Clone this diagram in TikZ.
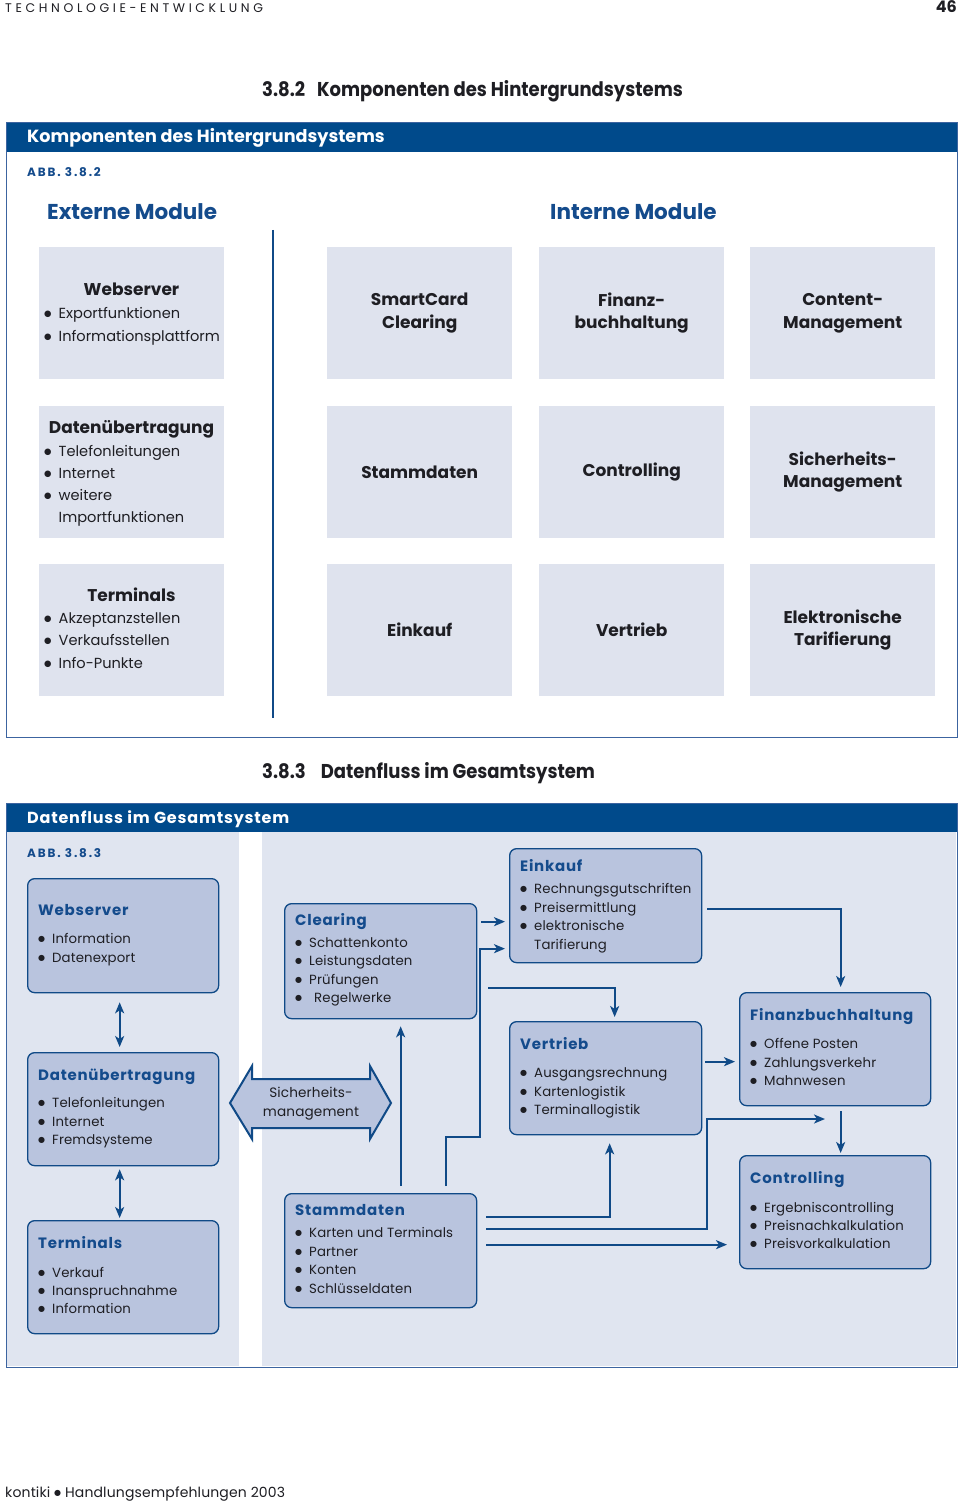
\documentclass[tikz,border=0pt]{standalone}
\usepackage{fontspec}
\setmainfont{Poppins}
\newfontfamily\fcondensed{Poppins}[FakeStretch=0.9]
\newfontfamily\fwide{Poppins}[LetterSpace=1]
\newfontfamily\fwidetitle{Poppins}[LetterSpace=5]
\newfontfamily\fbarwide{Poppins}[LetterSpace=5]
\newfontfamily\fabb{Poppins}[LetterSpace=15]
\newfontfamily\fhdr{Poppins}[LetterSpace=29]
\newfontfamily\fsym{DejaVu Sans}
\usetikzlibrary{arrows.meta}
\definecolor{barblue}{RGB}{0,74,139}
\definecolor{lineblue}{RGB}{16,74,135}
\definecolor{titleblue}{RGB}{20,75,140}
\definecolor{boxfill}{RGB}{185,196,222}
\definecolor{panelfill}{RGB}{224,229,240}
\definecolor{modfill}{RGB}{223,227,238}
\definecolor{framecol}{RGB}{60,100,160}
\definecolor{txt}{RGB}{30,30,35}
\newcommand\bul{\makebox[14pt][l]{\raisebox{1.1pt}{\fsym\fontsize{8}{8}\selectfont ●}}}
\newcommand\bulA{\makebox[14.5pt][l]{\raisebox{1.3pt}{\fsym\fontsize{8.5}{8.5}\selectfont ●}}}
\tikzset{
  modbox/.style={fill=modfill, minimum width=185pt, minimum height=132pt, anchor=north west, inner sep=0pt, align=center, text=txt, font=\bfseries\fontsize{17}{22.5}\selectfont},
  mtitle/.style={anchor=base, inner sep=0pt, text=txt, font=\bfseries\fontsize{17}{20}\selectfont},
  mitem/.style={anchor=base west, inner sep=0pt, text=txt, font=\fontsize{14.6}{20}\selectfont},
  flowbox/.style={draw=lineblue, line width=1.3pt, fill=boxfill, rounded corners=7pt, anchor=north west, inner sep=0pt},
  ftitle/.style={anchor=base west, inner sep=0pt, text=titleblue, font=\fwidetitle\bfseries\fontsize{15}{18}\selectfont},
  fitem/.style={anchor=base west, inner sep=0pt, text=txt, font=\fwide\fontsize{13.3}{18}\selectfont},
  arr/.style={draw=lineblue, line width=2pt, -{Stealth[length=11pt,width=9pt,inset=3pt]}},
  arrboth/.style={draw=lineblue, line width=2pt, {Stealth[length=11pt,width=9pt,inset=3pt]}-{Stealth[length=11pt,width=9pt,inset=3pt]}},
  frameline/.style={draw=framecol, line width=1pt},
  headline/.style={anchor=base west, inner sep=0pt, text=txt, font=\fcondensed\bfseries\fontsize{20}{22}\selectfont},
  bartext/.style={anchor=base west, inner sep=0pt, text=white},
  abbtext/.style={anchor=base west, inner sep=0pt, text=titleblue, font=\fabb\bfseries\fontsize{12}{14}\selectfont},
  coltitle/.style={anchor=base west, inner sep=0pt, text=titleblue, font=\bfseries\fontsize{21.5}{24}\selectfont}
}
\begin{document}
\begin{tikzpicture}[x=1pt,y=-1pt]
\useasboundingbox (0,0) rectangle (960,1503);
\fill[white] (0,0) rectangle (960,1503);

% page header and footer
\node[anchor=base west, inner sep=0pt, text=txt, font=\fhdr\fontsize{12.5}{14}\selectfont] (hdr) at (5,13) {TECHNOLOGIE-ENTWICKLUNG};
\node[anchor=base east, inner sep=0pt, text=txt, font=\bfseries\fontsize{16}{18}\selectfont] (pg) at (957,13) {46};
\node[anchor=base west, inner sep=0pt, text=txt, font=\fwide\fontsize{14}{16}\selectfont] (ftr) at (5,1497) {kontiki \raisebox{1.2pt}{\fsym\fontsize{8}{8}\selectfont ●} Handlungsempfehlungen 2003};

% ---------------- Figure 3.8.2 ----------------
\node[headline] (h1) at (262,97) {3.8.2\hspace{0.6em}Komponenten des Hintergrundsystems};
\fill[barblue] (6,123) rectangle (957,152);
\draw[frameline] (6,123) rectangle (957,737);
\node[bartext, font=\bfseries\fontsize{17.6}{20}\selectfont] (b1) at (27,143) {Komponenten des Hintergrundsystems};
\node[abbtext] (abb1) at (27,177) {ABB. 3.8.2};
\node[coltitle] (ext) at (47,220) {Externe Module};
\node[coltitle] (int) at (550,220) {Interne Module};
\draw[draw=lineblue, line width=2pt] (273,230) -- (273,718);

% row 1
\node[modbox] (m11) at (39,247) {};
\node[modbox] (m12) at (327,247) {SmartCard\\Clearing};
\node[modbox] (m13) at (539,247) {Finanz-\\buchhaltung};
\node[modbox] (m14) at (750,247) {Content-\\Management};
% row 2
\node[modbox] (m21) at (39,406) {};
\node[modbox] (m22) at (327,406) {Stammdaten};
\node[modbox] (m23) at (539,406) {Controlling};
\node[modbox] (m24) at (750,406) {Sicherheits-\\Management};
% row 3
\node[modbox] (m31) at (39,564) {};
\node[modbox] (m32) at (327,564) {Einkauf};
\node[modbox] (m33) at (539,564) {Vertrieb};
\node[modbox] (m34) at (750,564) {Elektronische\\Tarifierung};

\node[mtitle] (m11t) at (131.5,296) {Webserver};
\node[mitem] (m11a) at (44,318) {\bulA Exportfunktionen};
\node[mitem] (m11b) at (44,341) {\bulA Informationsplattform};

\node[mtitle] (m21t) at (131.5,433) {Datenübertragung};
\node[mitem] (m21a) at (44,456) {\bulA Telefonleitungen};
\node[mitem] (m21b) at (44,478) {\bulA Internet};
\node[mitem] (m21c) at (44,500) {\bulA weitere};
\node[mitem] (m21d) at (44,522) {\hspace*{14.5pt}Importfunktionen};

\node[mtitle] (m31t) at (131.5,601) {Terminals};
\node[mitem] (m31a) at (44,623) {\bulA Akzeptanzstellen};
\node[mitem] (m31b) at (44,645) {\bulA Verkaufsstellen};
\node[mitem] (m31c) at (44,668) {\bulA Info-Punkte};

% ---------------- Figure 3.8.3 ----------------
\node[headline] (h2) at (262,778) {3.8.3\hspace{0.75em}Datenfluss im Gesamtsystem};
\fill[panelfill] (7,832) rectangle (239,1366);
\fill[panelfill] (262,832) rectangle (956,1366);
\fill[barblue] (6,803) rectangle (957,832);
\draw[frameline] (6,803) rectangle (957,1367);
\node[bartext, font=\fbarwide\bfseries\fontsize{16}{18}\selectfont] (b2) at (27,823) {Datenfluss im Gesamtsystem};
\node[abbtext] (abb2) at (27,857) {ABB. 3.8.3};

% boxes
\node[flowbox, minimum width=191pt, minimum height=114pt] (ws) at (27,878) {};
\node[flowbox, minimum width=191pt, minimum height=113pt] (du) at (27,1052) {};
\node[flowbox, minimum width=191pt, minimum height=113pt] (te) at (27,1220) {};
\node[flowbox, minimum width=192pt, minimum height=115pt] (cl) at (284,903) {};
\node[flowbox, minimum width=192pt, minimum height=114pt] (sd) at (284,1193) {};
\node[flowbox, minimum width=192pt, minimum height=114pt] (ek) at (509,848) {};
\node[flowbox, minimum width=192pt, minimum height=113pt] (vt) at (509,1021) {};
\node[flowbox, minimum width=191pt, minimum height=113pt] (fb) at (739,992) {};
\node[flowbox, minimum width=191pt, minimum height=113pt] (ctl) at (739,1155) {};

% box texts
\node[ftitle] (wsT) at (38,915) {Webserver};
\node[fitem] (wsA) at (38,943) {\bul Information};
\node[fitem] (wsB) at (38,962) {\bul Datenexport};

\node[ftitle] (duT) at (38,1080) {Datenübertragung};
\node[fitem] (duA) at (38,1107) {\bul Telefonleitungen};
\node[fitem] (duB) at (38,1126) {\bul Internet};
\node[fitem] (duC) at (38,1144) {\bul Fremdsysteme};

\node[ftitle] (teT) at (38,1248) {Terminals};
\node[fitem] (teA) at (38,1277) {\bul Verkauf};
\node[fitem] (teB) at (38,1295) {\bul Inanspruchnahme};
\node[fitem] (teC) at (38,1313) {\bul Information};

\node[ftitle] (clT) at (295,925) {Clearing};
\node[fitem] (clA) at (295,947) {\bul Schattenkonto};
\node[fitem] (clB) at (295,965) {\bul Leistungsdaten};
\node[fitem] (clC) at (295,984) {\bul Prüfungen};
\node[fitem] (clD) at (295,1002) {\bul\hspace{5pt}Regelwerke};

\node[ftitle] (sdT) at (295,1215) {Stammdaten};
\node[fitem] (sdA) at (295,1237) {\bul Karten und Terminals};
\node[fitem] (sdB) at (295,1256) {\bul Partner};
\node[fitem] (sdC) at (295,1274) {\bul Konten};
\node[fitem] (sdD) at (295,1293) {\bul Schlüsseldaten};

\node[ftitle] (ekT) at (520,871) {Einkauf};
\node[fitem] (ekA) at (520,893) {\bul Rechnungsgutschriften};
\node[fitem] (ekB) at (520,912) {\bul Preisermittlung};
\node[fitem] (ekC) at (520,930) {\bul elektronische};
\node[fitem] (ekD) at (520,949) {\hspace*{14pt}Tarifierung};

\node[ftitle] (vtT) at (520,1049) {Vertrieb};
\node[fitem] (vtA) at (520,1077) {\bul Ausgangsrechnung};
\node[fitem] (vtB) at (520,1096) {\bul Kartenlogistik};
\node[fitem] (vtC) at (520,1114) {\bul Terminallogistik};

\node[ftitle] (fbT) at (750,1020) {Finanzbuchhaltung};
\node[fitem] (fbA) at (750,1048) {\bul Offene Posten};
\node[fitem] (fbB) at (750,1067) {\bul Zahlungsverkehr};
\node[fitem] (fbC) at (750,1085) {\bul Mahnwesen};

\node[ftitle] (ctlT) at (750,1183) {Controlling};
\node[fitem] (ctlA) at (750,1212) {\bul Ergebniscontrolling};
\node[fitem] (ctlB) at (750,1230) {\bul Preisnachkalkulation};
\node[fitem] (ctlC) at (750,1248) {\bul Preisvorkalkulation};

% security management double arrow
\draw[draw=lineblue, line width=2pt, fill=boxfill, line join=miter]
  (230,1103) -- (252,1066) -- (252,1079) -- (370,1079) -- (370,1066) -- (391,1103)
  -- (370,1139) -- (370,1128) -- (252,1128) -- (252,1139) -- cycle;
\node[align=center, inner sep=0pt, text=txt, font=\fwide\fontsize{13.6}{19}\selectfont] (sm) at (311,1104) {Sicherheits-\\management};

% connectors
\coordinate (j1) at (480,1137);
\coordinate (j2) at (707,1119);
\coordinate (tipF) at (825,1119);

\draw[arrboth] ([xshift=-3.5pt,yshift=-9pt]ws.south) -- ([xshift=-3.5pt,yshift=5pt]du.north);
\draw[arrboth] ([xshift=-3.5pt,yshift=-3pt]du.south) -- ([xshift=-3.5pt,yshift=2pt]te.north);
\draw[arr] ([xshift=20pt,yshift=7pt]sd.north) -- ([xshift=20pt,yshift=-7pt]cl.south);
\draw[arr] ([xshift=65pt,yshift=7pt]sd.north) |- (j1) |- ([xshift=-4pt,yshift=-43pt]ek.west);
\draw[arr] ([xshift=4pt,yshift=39.5pt]cl.east) -- ([xshift=-4pt,yshift=-16pt]ek.west);
\draw[arr] ([xshift=11pt,yshift=-26.5pt]cl.east) -| ([xshift=9pt,yshift=4pt]vt.north);
\draw[arr] ([xshift=5pt,yshift=-3pt]ek.east) -| ([xshift=5.5pt,yshift=5pt]fb.north);
\draw[arr] ([xshift=3pt,yshift=16.5pt]vt.east) -- ([xshift=-4pt,yshift=-12.5pt]fb.west);
\draw[arr] ([xshift=5.5pt,yshift=-5pt]fb.south) -- ([xshift=5.5pt,yshift=2pt]ctl.north);
\draw[arr] ([xshift=9pt,yshift=34pt]sd.east) -| ([xshift=4pt,yshift=-8pt]vt.south);
\draw[arr] ([xshift=9pt,yshift=22pt]sd.east) -| (j2) -- (tipF);
\draw[arr] ([xshift=9pt,yshift=6pt]sd.east) -- ([xshift=-12pt,yshift=-32.5pt]ctl.west);
\end{tikzpicture}
\end{document}
